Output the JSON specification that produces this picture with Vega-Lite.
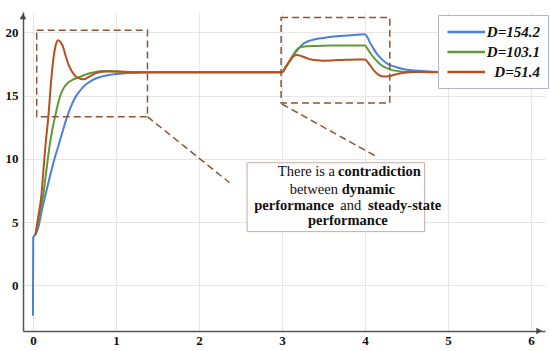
{
  "$schema": "https://vega.github.io/schema/vega-lite/v6.json",
  "width": 522,
  "height": 319,
  "autosize": "none",
  "padding": {"left": 23, "top": 12, "right": 5, "bottom": 20},
  "config": {"view": {"stroke": null}, "font": "Liberation Serif"},
  "datasets": {
    "curves": [
      {"t": 0, "v": -2.4, "s": "D=154.2"}, {"t": 0.003, "v": 3.8, "s": "D=154.2"}, {"t": 0.03, "v": 4.0, "s": "D=154.2"},
      {"t": 0.065, "v": 4.6, "s": "D=154.2"}, {"t": 0.1, "v": 5.7, "s": "D=154.2"}, {"t": 0.145, "v": 7.0, "s": "D=154.2"},
      {"t": 0.2, "v": 8.5, "s": "D=154.2"}, {"t": 0.245, "v": 9.66, "s": "D=154.2"}, {"t": 0.305, "v": 11.0, "s": "D=154.2"},
      {"t": 0.35, "v": 12.0, "s": "D=154.2"}, {"t": 0.405, "v": 13.2, "s": "D=154.2"}, {"t": 0.45, "v": 14.0, "s": "D=154.2"},
      {"t": 0.505, "v": 14.8, "s": "D=154.2"}, {"t": 0.6, "v": 15.65, "s": "D=154.2"}, {"t": 0.71, "v": 16.2, "s": "D=154.2"},
      {"t": 0.8, "v": 16.45, "s": "D=154.2"}, {"t": 0.9, "v": 16.6, "s": "D=154.2"}, {"t": 1.0, "v": 16.7, "s": "D=154.2"},
      {"t": 1.11, "v": 16.77, "s": "D=154.2"}, {"t": 1.3, "v": 16.83, "s": "D=154.2"}, {"t": 1.5, "v": 16.85, "s": "D=154.2"},
      {"t": 3.0, "v": 16.85, "s": "D=154.2"}, {"t": 3.05, "v": 17.3, "s": "D=154.2"}, {"t": 3.1, "v": 17.8, "s": "D=154.2"},
      {"t": 3.15, "v": 18.3, "s": "D=154.2"}, {"t": 3.2, "v": 18.7, "s": "D=154.2"}, {"t": 3.25, "v": 19.05, "s": "D=154.2"},
      {"t": 3.3, "v": 19.25, "s": "D=154.2"}, {"t": 3.4, "v": 19.45, "s": "D=154.2"}, {"t": 3.5, "v": 19.55, "s": "D=154.2"},
      {"t": 3.6, "v": 19.65, "s": "D=154.2"}, {"t": 3.7, "v": 19.7, "s": "D=154.2"}, {"t": 3.8, "v": 19.75, "s": "D=154.2"},
      {"t": 3.9, "v": 19.8, "s": "D=154.2"}, {"t": 4.0, "v": 19.85, "s": "D=154.2"}, {"t": 4.03, "v": 19.6, "s": "D=154.2"},
      {"t": 4.06, "v": 19.2, "s": "D=154.2"}, {"t": 4.1, "v": 18.75, "s": "D=154.2"}, {"t": 4.15, "v": 18.25, "s": "D=154.2"},
      {"t": 4.2, "v": 17.9, "s": "D=154.2"}, {"t": 4.26, "v": 17.55, "s": "D=154.2"}, {"t": 4.35, "v": 17.3, "s": "D=154.2"},
      {"t": 4.46, "v": 17.1, "s": "D=154.2"}, {"t": 4.56, "v": 17.0, "s": "D=154.2"}, {"t": 4.66, "v": 16.95, "s": "D=154.2"},
      {"t": 4.82, "v": 16.88, "s": "D=154.2"}, {"t": 5.0, "v": 16.85, "s": "D=154.2"}, {"t": 5.5, "v": 16.85, "s": "D=154.2"},

      {"t": 0.03, "v": 4.0, "s": "D=103.1"}, {"t": 0.06, "v": 5.0, "s": "D=103.1"}, {"t": 0.09, "v": 6.0, "s": "D=103.1"},
      {"t": 0.125, "v": 7.2, "s": "D=103.1"}, {"t": 0.16, "v": 9.0, "s": "D=103.1"}, {"t": 0.2, "v": 11.0, "s": "D=103.1"},
      {"t": 0.23, "v": 12.2, "s": "D=103.1"}, {"t": 0.265, "v": 13.3, "s": "D=103.1"}, {"t": 0.3, "v": 14.3, "s": "D=103.1"},
      {"t": 0.325, "v": 14.9, "s": "D=103.1"}, {"t": 0.37, "v": 15.6, "s": "D=103.1"}, {"t": 0.42, "v": 16.0, "s": "D=103.1"},
      {"t": 0.48, "v": 16.25, "s": "D=103.1"}, {"t": 0.545, "v": 16.42, "s": "D=103.1"}, {"t": 0.62, "v": 16.62, "s": "D=103.1"},
      {"t": 0.71, "v": 16.8, "s": "D=103.1"}, {"t": 0.83, "v": 16.94, "s": "D=103.1"}, {"t": 0.95, "v": 16.92, "s": "D=103.1"},
      {"t": 1.1, "v": 16.87, "s": "D=103.1"}, {"t": 1.3, "v": 16.85, "s": "D=103.1"}, {"t": 3.0, "v": 16.85, "s": "D=103.1"},
      {"t": 3.05, "v": 17.3, "s": "D=103.1"}, {"t": 3.1, "v": 17.8, "s": "D=103.1"}, {"t": 3.15, "v": 18.35, "s": "D=103.1"},
      {"t": 3.19, "v": 18.7, "s": "D=103.1"}, {"t": 3.25, "v": 18.86, "s": "D=103.1"}, {"t": 3.4, "v": 18.92, "s": "D=103.1"},
      {"t": 3.6, "v": 18.95, "s": "D=103.1"}, {"t": 4.0, "v": 18.95, "s": "D=103.1"}, {"t": 4.03, "v": 18.7, "s": "D=103.1"},
      {"t": 4.07, "v": 18.3, "s": "D=103.1"}, {"t": 4.12, "v": 17.9, "s": "D=103.1"}, {"t": 4.18, "v": 17.5, "s": "D=103.1"},
      {"t": 4.25, "v": 17.2, "s": "D=103.1"}, {"t": 4.3, "v": 17.07, "s": "D=103.1"}, {"t": 4.4, "v": 16.93, "s": "D=103.1"},
      {"t": 4.5, "v": 16.87, "s": "D=103.1"}, {"t": 5.5, "v": 16.85, "s": "D=103.1"},

      {"t": 0.03, "v": 4.0, "s": "D=51.4"}, {"t": 0.065, "v": 5.5, "s": "D=51.4"}, {"t": 0.1, "v": 7.0, "s": "D=51.4"},
      {"t": 0.125, "v": 9.0, "s": "D=51.4"}, {"t": 0.15, "v": 11.0, "s": "D=51.4"}, {"t": 0.185, "v": 13.3, "s": "D=51.4"},
      {"t": 0.225, "v": 16.6, "s": "D=51.4"}, {"t": 0.25, "v": 18.1, "s": "D=51.4"}, {"t": 0.275, "v": 19.0, "s": "D=51.4"},
      {"t": 0.305, "v": 19.37, "s": "D=51.4"}, {"t": 0.335, "v": 19.2, "s": "D=51.4"}, {"t": 0.37, "v": 18.7, "s": "D=51.4"},
      {"t": 0.4, "v": 18.0, "s": "D=51.4"}, {"t": 0.425, "v": 17.5, "s": "D=51.4"}, {"t": 0.47, "v": 16.9, "s": "D=51.4"},
      {"t": 0.51, "v": 16.55, "s": "D=51.4"}, {"t": 0.545, "v": 16.4, "s": "D=51.4"}, {"t": 0.61, "v": 16.28, "s": "D=51.4"},
      {"t": 0.68, "v": 16.5, "s": "D=51.4"}, {"t": 0.75, "v": 16.75, "s": "D=51.4"}, {"t": 0.87, "v": 16.9, "s": "D=51.4"},
      {"t": 1.0, "v": 16.9, "s": "D=51.4"}, {"t": 1.2, "v": 16.85, "s": "D=51.4"}, {"t": 3.0, "v": 16.85, "s": "D=51.4"},
      {"t": 3.05, "v": 17.3, "s": "D=51.4"}, {"t": 3.1, "v": 17.8, "s": "D=51.4"}, {"t": 3.14, "v": 18.1, "s": "D=51.4"},
      {"t": 3.18, "v": 18.2, "s": "D=51.4"}, {"t": 3.24, "v": 18.1, "s": "D=51.4"}, {"t": 3.32, "v": 17.9, "s": "D=51.4"},
      {"t": 3.42, "v": 17.78, "s": "D=51.4"}, {"t": 3.5, "v": 17.75, "s": "D=51.4"}, {"t": 3.7, "v": 17.8, "s": "D=51.4"},
      {"t": 3.9, "v": 17.85, "s": "D=51.4"}, {"t": 4.0, "v": 17.85, "s": "D=51.4"}, {"t": 4.05, "v": 17.5, "s": "D=51.4"},
      {"t": 4.1, "v": 17.05, "s": "D=51.4"}, {"t": 4.16, "v": 16.65, "s": "D=51.4"}, {"t": 4.22, "v": 16.5, "s": "D=51.4"},
      {"t": 4.3, "v": 16.55, "s": "D=51.4"}, {"t": 4.4, "v": 16.72, "s": "D=51.4"}, {"t": 4.5, "v": 16.83, "s": "D=51.4"},
      {"t": 4.6, "v": 16.87, "s": "D=51.4"}, {"t": 4.8, "v": 16.85, "s": "D=51.4"}, {"t": 5.5, "v": 16.85, "s": "D=51.4"}
    ],
    "boxes": [
      {"x1": 0.045, "x2": 1.38, "y1": 13.33, "y2": 20.16},
      {"x1": 2.99, "x2": 4.3, "y1": 14.41, "y2": 21.16}
    ],
    "links": [
      {"x1": 1.38, "y1": 13.33, "x2": 2.37, "y2": 8.11},
      {"x1": 3.0, "y1": 14.33, "x2": 4.145, "y2": 10.16}
    ],
    "note": [
      {"x1": 2.58, "x2": 4.72, "y1": 4.25, "y2": 9.69}
    ]
  },
  "layer": [
    {
      "data": {"name": "curves"},
      "mark": {"type": "line", "strokeWidth": 2, "interpolate": "monotone"},
      "encoding": {
        "x": {
          "field": "t", "type": "quantitative",
          "scale": {"domain": [-0.12, 6.17], "nice": false, "zero": false},
          "axis": {"values": [0, 1, 2, 3, 4, 5, 6], "format": "d", "title": null, "grid": true, "gridColor": "#e6e6e6", "ticks": false,
            "domainColor": "#555555", "domainWidth": 1.5, "labelFont": "Liberation Serif", "labelFontWeight": "bold",
            "labelFontSize": 13, "labelColor": "#111111", "labelPadding": 3}
        },
        "y": {
          "field": "v", "type": "quantitative",
          "scale": {"domain": [-3.6, 21.6], "nice": false, "zero": false},
          "axis": {"values": [0, 5, 10, 15, 20], "format": "d", "title": null, "grid": true, "gridColor": "#e6e6e6", "ticks": false,
            "domainColor": "#555555", "domainWidth": 1.5, "labelFont": "Liberation Serif", "labelFontWeight": "bold",
            "labelFontSize": 13, "labelColor": "#111111", "labelPadding": 5}
        },
        "color": {
          "field": "s", "type": "nominal",
          "scale": {"domain": ["D=154.2", "D=103.1", "D=51.4"], "range": ["#4a7fdc", "#5f9b35", "#b5501f"]},
          "legend": {"title": null, "orient": "none", "legendX": 415, "legendY": 3, "direction": "vertical",
            "fillColor": "white", "strokeColor": "#a9b6cc", "padding": 8, "symbolType": "M-1,0H4", "symbolSize": 225,
            "symbolStrokeWidth": 2.5, "symbolFillColor": "transparent", "labelFont": "Liberation Serif", "labelFontStyle": "italic", "labelFontWeight": "bold",
            "labelFontSize": 15, "labelAlign": "right", "labelOffset": 76, "rowPadding": 3, "labelColor": "#111111"}
        }
      }
    },
    {
      "data": {"name": "boxes"},
      "mark": {"type": "rect", "fillOpacity": 0, "stroke": "#8b5636", "strokeWidth": 1.5, "strokeDash": [7, 4]},
      "encoding": {
        "x": {"field": "x1", "type": "quantitative"}, "x2": {"field": "x2"},
        "y": {"field": "y1", "type": "quantitative"}, "y2": {"field": "y2"}
      }
    },
    {
      "data": {"name": "links"},
      "mark": {"type": "rule", "stroke": "#8b5636", "strokeWidth": 1.5, "strokeDash": [7, 4]},
      "encoding": {
        "x": {"field": "x1", "type": "quantitative"}, "x2": {"field": "x2"},
        "y": {"field": "y1", "type": "quantitative"}, "y2": {"field": "y2"}
      }
    },
    {
      "data": {"name": "note"},
      "mark": {"type": "rect", "fill": "white", "stroke": "#c4ada2", "strokeWidth": 1},
      "encoding": {
        "x": {"field": "x1", "type": "quantitative"}, "x2": {"field": "x2"},
        "y": {"field": "y1", "type": "quantitative"}, "y2": {"field": "y2"}
      }
    },
    {
      "data": {"values": [
        {"x": 3.64, "y": 8.95, "txt": "There is a"},
        {"x": 3.675, "y": 7.56, "txt": "between"}
      ]},
      "mark": {"type": "text", "align": "right", "baseline": "middle", "font": "Liberation Serif", "fontSize": 14.5, "color": "#111111"},
      "encoding": {"x": {"field": "x", "type": "quantitative"}, "y": {"field": "y", "type": "quantitative"}, "text": {"field": "txt"}}
    },
    {
      "data": {"values": [
        {"x": 3.675, "y": 8.95, "txt": "contradiction"},
        {"x": 3.72, "y": 7.56, "txt": "dynamic"},
        {"x": 4.036, "y": 6.3, "txt": "steady-state"}
      ]},
      "mark": {"type": "text", "align": "left", "baseline": "middle", "font": "Liberation Serif", "fontSize": 14.5, "fontWeight": "bold", "color": "#111111"},
      "encoding": {"x": {"field": "x", "type": "quantitative"}, "y": {"field": "y", "type": "quantitative"}, "text": {"field": "txt"}}
    },
    {
      "data": {"values": [
        {"x": 3.627, "y": 6.3, "txt": "performance"}
      ]},
      "mark": {"type": "text", "align": "right", "baseline": "middle", "font": "Liberation Serif", "fontSize": 14.5, "fontWeight": "bold", "color": "#111111"},
      "encoding": {"x": {"field": "x", "type": "quantitative"}, "y": {"field": "y", "type": "quantitative"}, "text": {"field": "txt"}}
    },
    {
      "data": {"values": [
        {"x": 3.83, "y": 6.3, "txt": "and"}
      ]},
      "mark": {"type": "text", "align": "center", "baseline": "middle", "font": "Liberation Serif", "fontSize": 14.5, "color": "#111111"},
      "encoding": {"x": {"field": "x", "type": "quantitative"}, "y": {"field": "y", "type": "quantitative"}, "text": {"field": "txt"}}
    },
    {
      "data": {"values": [
        {"x": 3.795, "y": 5.06, "txt": "performance"}
      ]},
      "mark": {"type": "text", "align": "center", "baseline": "middle", "font": "Liberation Serif", "fontSize": 14.5, "fontWeight": "bold", "color": "#111111"},
      "encoding": {"x": {"field": "x", "type": "quantitative"}, "y": {"field": "y", "type": "quantitative"}, "text": {"field": "txt"}}
    },
    {
      "data": {"values": [{"x": -0.12, "y": 21.25}]},
      "mark": {"type": "point", "shape": "triangle-up", "filled": true, "size": 45, "color": "#444444", "opacity": 1},
      "encoding": {"x": {"field": "x", "type": "quantitative"}, "y": {"field": "y", "type": "quantitative"}}
    },
    {
      "data": {"values": [{"x": 6.1, "y": -3.6}]},
      "mark": {"type": "point", "shape": "triangle-right", "filled": true, "size": 45, "color": "#444444", "opacity": 1},
      "encoding": {"x": {"field": "x", "type": "quantitative"}, "y": {"field": "y", "type": "quantitative"}}
    }
  ]
}
